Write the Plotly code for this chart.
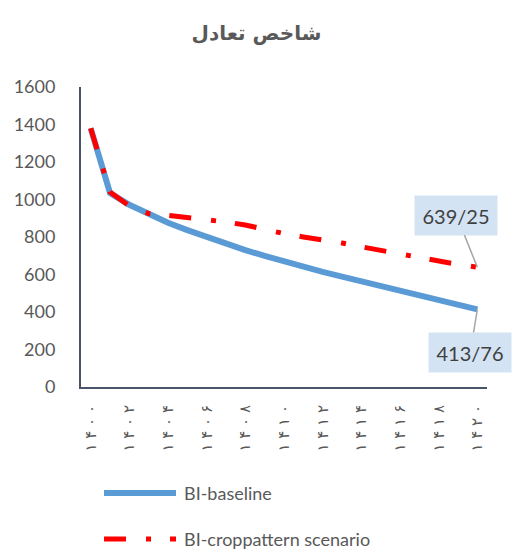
import plotly.graph_objects as go

# years 1400..1420 (Solar Hijri)
years = list(range(1400, 1421))
baseline = [1380, 1035, 972, 920, 876, 837, 800, 764, 730, 699, 669,
            641, 614, 589, 565, 539, 514, 489, 464, 439, 413.76]
scenario = [1380, 1040, 965, 925, 915, 905, 893, 880, 864, 840, 818,
            800, 787, 768, 748, 728, 711, 693, 672, 653, 639.25]

tick_years = [1400, 1402, 1404, 1406, 1408, 1410, 1412, 1414, 1416, 1418, 1420]
tick_labels = ["۱۴۰۰", "۱۴۰۲", "۱۴۰۴", "۱۴۰۶", "۱۴۰۸", "۱۴۱۰",
               "۱۴۱۲", "۱۴۱۴", "۱۴۱۶", "۱۴۱۸", "۱۴۲۰"]

names = ["BI-baseline", "BI-croppattern scenario"]
end_labels = ["413/76", "639/25"]

blue = "#5B9BD5"
red = "#FF0000"
axis_col = "#4A5468"
txt_col = "#595959"
red_dash = "22px,20px,5px,19px"

fig = go.Figure()

fig.add_trace(go.Scatter(x=years, y=baseline, mode="lines", name=names[0],
                         line=dict(color=blue, width=6), hoverinfo="x+y"))
fig.add_trace(go.Scatter(x=years, y=scenario, mode="lines", name=names[1],
                         line=dict(color=red, width=5, dash=red_dash),
                         hoverinfo="x+y"))

# data labels at the last point
for val, lab, ax, ay in [(scenario[-1], end_labels[1], -21, -52),
                         (baseline[-1], end_labels[0], -7, 43)]:
    fig.add_annotation(x=years[-1], y=val, text=lab, showarrow=True,
                       arrowhead=0, arrowwidth=1.5, arrowcolor="#A6A6A6",
                       ax=ax, ay=ay, bgcolor="#D4E3F4", width=80, height=37,
                       font=dict(family="Lato", size=20, color="#404040"))

# manual legend
leg = [(names[0], blue, 6, "solid", -0.353), (names[1], red, 5, red_dash, -0.507)]
for name, col, w, dash, yy in leg:
    fig.add_shape(type="line", xref="paper", yref="paper",
                  x0=0.0567, x1=0.234, y0=yy, y1=yy,
                  line=dict(color=col, width=w, dash=dash))
    fig.add_annotation(xref="paper", yref="paper", x=0.249, y=yy, text=name,
                       showarrow=False, xanchor="left", yanchor="middle",
                       font=dict(family="Lato", size=18, color=txt_col))

spaced = [" ".join(t) for t in tick_labels]

fig.update_xaxes(range=[1399.5, 1420.5], tickvals=tick_years, ticktext=spaced,
                 tickangle=-90, showgrid=False, zeroline=False, showline=True,
                 linecolor=axis_col, linewidth=2, ticks="",
                 ticklabelstandoff=10,
                 tickfont=dict(family="DejaVu Sans", size=15, color=txt_col))
fig.update_yaxes(range=[0, 1600], dtick=200, showgrid=False, zeroline=False,
                 showline=True, linecolor=axis_col, linewidth=2, ticks="",
                 ticklabelstandoff=20,
                 tickfont=dict(family="Lato", size=18, color=txt_col))

fig.update_layout(
    title=dict(text="<b>شاخص تعادل</b>", x=0.5, xanchor="center",
               y=1 - 33 / 550, yanchor="middle",
               font=dict(family="DejaVu Sans", size=20, color=txt_col)),
    showlegend=False,
    width=513, height=550,
    margin=dict(l=81, r=26, t=87, b=163),
    plot_bgcolor="white", paper_bgcolor="white",
)

fig.write_html("out.html", config={"displayModeBar": False},
               post_script="document.body.style.margin='0';")
